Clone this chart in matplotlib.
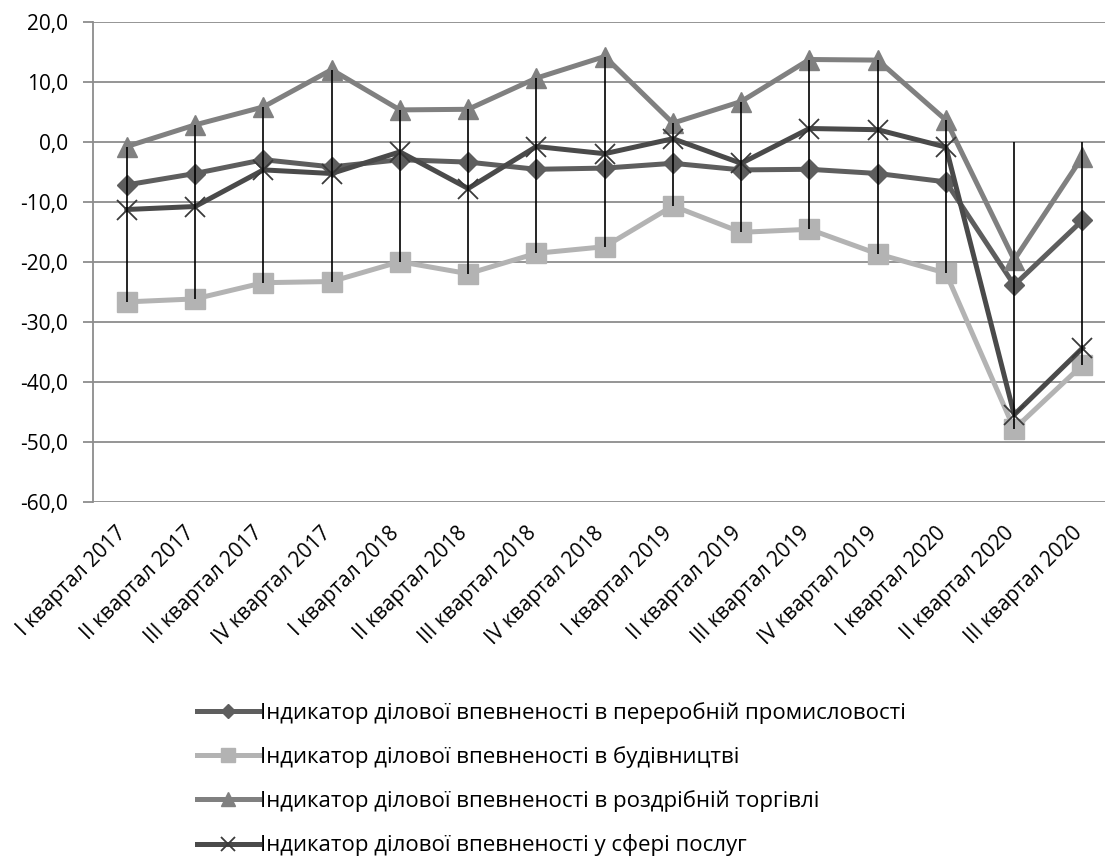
import matplotlib
matplotlib.use("Agg")
import matplotlib.pyplot as plt
import matplotlib.transforms as mtransforms
import numpy as np
from matplotlib.ticker import FuncFormatter, MultipleLocator

plt.rcParams['font.family'] = ['Open Sans', 'DejaVu Sans']

# Data
quarters = ['I квартал 2017', 'II квартал 2017', 'III квартал 2017', 'IV квартал 2017',
            'I квартал 2018', 'II квартал 2018', 'III квартал 2018', 'IV квартал 2018',
            'I квартал 2019', 'II квартал 2019', 'III квартал 2019', 'IV квартал 2019',
            'I квартал 2020', 'II квартал 2020', 'III квартал 2020']
manufacturing = [-7.2, -5.3, -3.0, -4.2, -3.0, -3.4, -4.6, -4.4, -3.6, -4.7,
                 -4.6, -5.3, -6.7, -23.9, -13.1]
construction = [-26.7, -26.2, -23.5, -23.3, -20.0, -22.0, -18.6, -17.5, -10.7, -15.1,
                -14.6, -18.7, -21.9, -47.9, -37.2]
retail = [-0.8, 2.8, 5.8, 12.0, 5.3, 5.4, 10.6, 14.2, 3.1, 6.7,
          13.7, 13.6, 3.6, -19.7, -2.5]
services = [-11.3, -10.8, -4.7, -5.3, -1.7, -7.8, -0.8, -2.0, 0.5, -3.6,
            2.2, 2.0, -0.9, -45.5, -34.4]
# hidden series in the source workbook (only affects the high-low lines)
hidden = [np.nan] * 13 + [0.0, 0.0]

labels = ['Індикатор ділової впевненості в переробній промисловості',
          'Індикатор ділової впевненості в будівництві',
          'Індикатор ділової впевненості в роздрібній торгівлі',
          'Індикатор ділової впевненості у сфері послуг']

W, H = 1105, 865
fig = plt.figure(figsize=(W / 100, H / 100), dpi=100)
left, right, top, bottom = 92.7, 1116.6, 21.7, 501.7
ax = fig.add_axes([left / W, 1 - bottom / H, (right - left) / W, (bottom - top) / H])

x = np.arange(len(quarters))
lw = 3.6
ax.plot(x, manufacturing, color='#5e5e5e', lw=lw, marker='D', ms=10, label=labels[0], zorder=3)
ax.plot(x, construction, color='#b3b3b3', lw=lw, marker='s', ms=14, label=labels[1], zorder=3)
ax.plot(x, retail, color='#808080', lw=lw, marker='^', ms=14, label=labels[2], zorder=3)
ax.plot(x, services, color='#4a4a4a', lw=lw, marker='x', ms=14, mew=1.3,
        mec='#3a3a3a', label=labels[3], zorder=3)

# high-low lines
allv = np.array([manufacturing, construction, retail, services, hidden])
ax.vlines(x, np.nanmin(allv, axis=0), np.nanmax(allv, axis=0), color='black', lw=1.2, zorder=5)

ax.set_xlim(-0.5, len(quarters) - 0.5)
ax.set_ylim(-60, 20)
ax.yaxis.set_major_locator(MultipleLocator(10))
ax.yaxis.set_major_formatter(FuncFormatter(lambda v, p: f'{v:.1f}'.replace('.', ',')))
ax.grid(axis='y', color='#8c8c8c', lw=1.3)
ax.set_axisbelow(True)
for s in ['top', 'right', 'bottom']:
    ax.spines[s].set_visible(False)
ax.spines['left'].set_color('#8c8c8c')
ax.spines['left'].set_linewidth(1.3)
ax.tick_params(axis='y', length=7, color='#8c8c8c', width=1.3, pad=11, labelsize=15)
ax.tick_params(axis='x', length=0, pad=8)
ax.set_xticks(x)
ax.set_xticklabels(quarters, rotation=45, ha='right', va='top', rotation_mode='anchor', fontsize=15)
shift = mtransforms.ScaledTranslation(-11 / 100, -10 / 100, fig.dpi_scale_trans)
for lbl in ax.get_xticklabels():
    lbl.set_transform(lbl.get_transform() + shift)

ax.legend(loc='upper left', bbox_to_anchor=(177 / W, 1 - 682 / H), bbox_transform=fig.transFigure,
          frameon=False, fontsize=16, handlelength=2.8, handletextpad=0.05, labelspacing=1.0,
          markerscale=0.75)

fig.savefig('out.png', dpi=100)
